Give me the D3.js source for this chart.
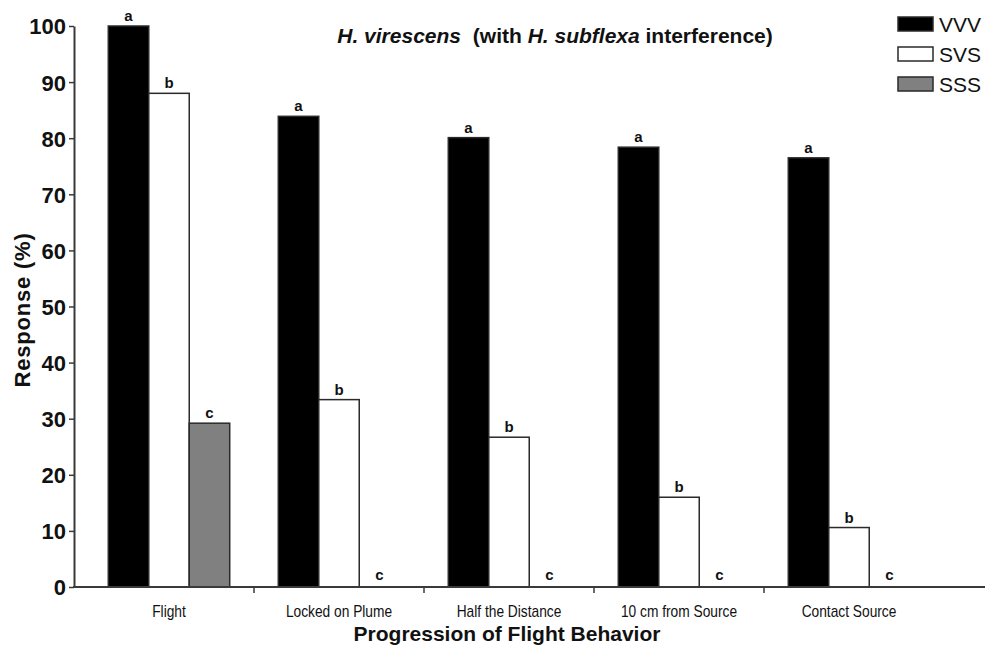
<!DOCTYPE html>
<html>
<head>
<meta charset="utf-8">
<script src="https://cdn.jsdelivr.net/npm/d3@7"></script>
<style>
  html, body { margin: 0; padding: 0; background: #fff; overflow: hidden; }
  svg { display: block; font-family: "Liberation Sans", Arial, sans-serif; }
</style>
</head>
<body>
<div id="chart"></div>
<script>
// ---- data ----
const categories = ['Flight', 'Locked on Plume', 'Half the Distance', '10 cm from Source', 'Contact Source'];
const series = ['VVV', 'SVS', 'SSS'];
const vvvValues = [100, 83.9, 80.1, 78.4, 76.5];
const svsValues = [88, 33.4, 26.7, 16, 10.6];
const sssValues = [29.2, 0, 0, 0, 0];
const vvvLetters = ['a', 'a', 'a', 'a', 'a'];
const svsLetters = ['b', 'b', 'b', 'b', 'b'];
const sssLetters = ['c', 'c', 'c', 'c', 'c'];
const yTicks = [0, 10, 20, 30, 40, 50, 60, 70, 80, 90, 100];

(function () {
  'use strict';

  const W = 985, H = 647;
  const fills = { VVV: '#000000', SVS: '#ffffff', SSS: '#808080' };
  const valuesBySeries = { VVV: vvvValues, SVS: svsValues, SSS: sssValues };
  const lettersBySeries = { VVV: vvvLetters, SVS: svsLetters, SSS: sssLetters };

  // flatten into rows for the bar join
  const rows = [];
  categories.forEach((c, i) => {
    series.forEach(s => {
      rows.push({ cat: c, s: s, v: valuesBySeries[s][i], letter: lettersBySeries[s][i] });
    });
  });

  const svg = d3.select('#chart').append('svg')
    .attr('width', W).attr('height', H);

  const axisX = 74;
  const y = d3.scaleLinear().domain([0, 100]).range([587, 26]);
  const x0 = d3.scaleBand().domain(categories).range([84, 934]);
  const x1 = d3.scaleBand().domain(series).range([0, x0.bandwidth()]).paddingOuter(0.6);

  const axisColor = '#3a3a3a';

  // bars
  svg.append('g').selectAll('rect.bar')
    .data(rows.filter(d => d.v > 0))
    .join('rect')
    .attr('class', 'bar')
    .attr('x', d => x0(d.cat) + x1(d.s))
    .attr('y', d => y(d.v))
    .attr('width', x1.bandwidth())
    .attr('height', d => y(0) - y(d.v))
    .attr('fill', d => fills[d.s])
    .attr('stroke', '#2a2a2a')
    .attr('stroke-width', 1.5);

  // significance letters
  svg.append('g').selectAll('text.sig')
    .data(rows)
    .join('text')
    .attr('class', 'sig')
    .attr('x', d => x0(d.cat) + x1(d.s) + x1.bandwidth() / 2)
    .attr('y', d => y(d.v) - (d.v > 0 ? 5 : 7))
    .attr('text-anchor', 'middle')
    .attr('font-size', 15)
    .attr('font-weight', 'bold')
    .attr('fill', '#111')
    .text(d => d.letter);

  // y axis
  const yAxis = svg.append('g').attr('transform', `translate(${axisX},0)`)
    .call(d3.axisLeft(y).tickValues(yTicks).tickSize(5).tickSizeOuter(0).tickPadding(3));
  yAxis.select('.domain').attr('stroke', axisColor).attr('stroke-width', 2);
  yAxis.selectAll('.tick line').attr('stroke', axisColor).attr('stroke-width', 1.5);
  yAxis.selectAll('.tick text')
    .attr('font-family', '"Liberation Sans", Arial, sans-serif')
    .attr('font-size', 22).attr('font-weight', 'bold').attr('fill', '#111')
    .attr('dy', '0.36em');

  // x axis line (extends to the edge) and boundary ticks
  svg.append('line')
    .attr('x1', axisX - 1).attr('x2', W).attr('y1', y(0)).attr('y2', y(0))
    .attr('stroke', axisColor).attr('stroke-width', 2);
  svg.append('g').selectAll('line.xtick')
    .data(categories.slice(1))
    .join('line')
    .attr('class', 'xtick')
    .attr('x1', d => x0(d)).attr('x2', d => x0(d))
    .attr('y1', y(0)).attr('y2', y(0) + 6)
    .attr('stroke', axisColor).attr('stroke-width', 1.5);

  // x category labels (squeezed horizontally to mimic a narrow face)
  svg.append('g').selectAll('text.xlab')
    .data(categories)
    .join('text')
    .attr('class', 'xlab')
    .attr('transform', d => `translate(${x0(d) + x0.bandwidth() / 2},617) scale(0.86,1)`)
    .attr('text-anchor', 'middle')
    .attr('font-size', 16)
    .attr('fill', '#111')
    .text(d => d);

  // axis titles
  svg.append('text')
    .attr('x', 507).attr('y', 641)
    .attr('text-anchor', 'middle')
    .attr('font-size', 21).attr('font-weight', 'bold').attr('fill', '#111')
    .text('Progression of Flight Behavior');

  svg.append('text')
    .attr('transform', 'translate(30,310) rotate(-90)')
    .attr('text-anchor', 'middle')
    .attr('font-size', 22).attr('font-weight', 'bold').attr('fill', '#111')
    .attr('letter-spacing', 0.8)
    .text('Response (%)');

  // title with italic species names
  const title = svg.append('text')
    .attr('x', 555).attr('y', 43)
    .attr('text-anchor', 'middle')
    .attr('font-size', 21).attr('font-weight', 'bold').attr('fill', '#111');
  title.append('tspan').attr('font-style', 'italic').text('H. virescens');
  title.append('tspan').attr('dx', 6).text(' (with ');
  title.append('tspan').attr('font-style', 'italic').text('H. subflexa');
  title.append('tspan').text(' interference)');

  // legend, tight against the right edge
  const legend = svg.append('g').attr('transform', 'translate(898,17)');
  const items = legend.selectAll('g.leg')
    .data(series)
    .join('g')
    .attr('class', 'leg')
    .attr('transform', (d, i) => `translate(0,${i * 30})`);
  items.append('rect')
    .attr('width', 35).attr('height', 14)
    .attr('fill', d => fills[d])
    .attr('stroke', '#2a2a2a').attr('stroke-width', 1.5);
  items.append('text')
    .attr('x', 41).attr('y', 15)
    .attr('font-size', 21).attr('fill', '#111')
    .text(d => d);
})();
</script>
</body>
</html>
